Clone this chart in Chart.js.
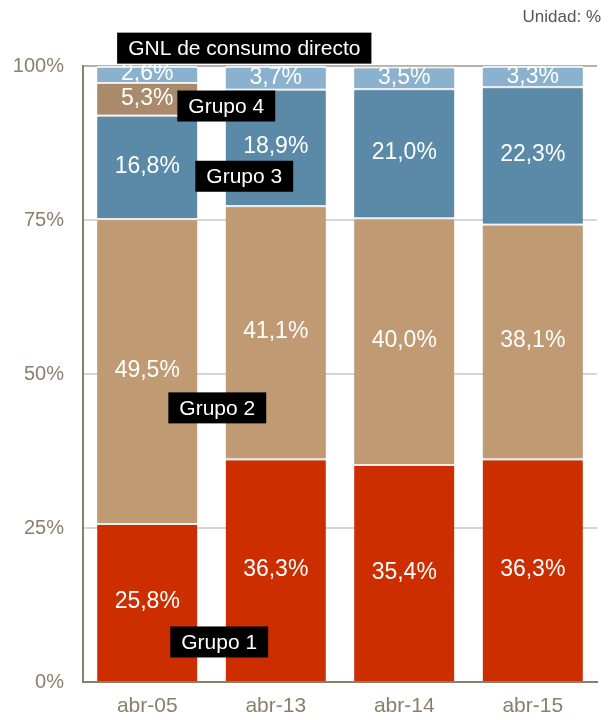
<!DOCTYPE html>
<html>
<head>
<meta charset="utf-8">
<script src="https://cdn.jsdelivr.net/npm/chart.js@4"></script>
<style>
  body { margin: 0; background: #fff; }
  .wrap { position: relative; width: 611px; height: 720px; }
</style>
</head>
<body>
<div class="wrap"><canvas id="myChart"></canvas></div>
<script>
(function () {
  const labels = ['abr-05', 'abr-13', 'abr-14', 'abr-15'];

  const grupo1 = [25.8, 36.3, 35.4, 36.3];
  const grupo2 = [49.5, 41.1, 40.0, 38.1];
  const grupo3 = [16.8, 18.9, 21.0, 22.3];
  const grupo4 = [5.3, 0, 0, 0];
  const gnl = [2.6, 3.7, 3.5, 3.3];

  const yTicks = [0, 25, 50, 75, 100];

  // black name boxes, placed in data units
  const notes = [
    { text: 'GNL de consumo directo', x: 0.755, y: 102.9 },
    { text: 'Grupo 4', x: 0.615, y: 93.5 },
    { text: 'Grupo 3', x: 0.755, y: 82.1 },
    { text: 'Grupo 2', x: 0.545, y: 44.5 },
    { text: 'Grupo 1', x: 0.56, y: 6.5 },
  ];

  const FONT = '"Liberation Sans", Arial, sans-serif';
  const AXIS = '#8a7f6a';

  function ds(data, color) {
    return {
      data: data,
      backgroundColor: color,
      borderColor: '#ffffff',
      borderWidth: { top: 2, bottom: 0, left: 0, right: 0 },
      borderSkipped: false,
      barPercentage: 0.78,
      categoryPercentage: 1,
    };
  }

  const shadow = {
    id: 'shadow',
    beforeDatasetsDraw(chart) {
      const c = chart.ctx;
      c.save();
      c.shadowColor = 'rgba(0,0,0,0.22)';
      c.shadowBlur = 4;
    },
    afterDatasetsDraw(chart) {
      chart.ctx.restore();
    }
  };

  const valueLabels = {
    id: 'valueLabels',
    afterDatasetsDraw(chart) {
      const c = chart.ctx;
      c.save();
      c.fillStyle = '#ffffff';
      c.font = '23px ' + FONT;
      c.textAlign = 'center';
      c.textBaseline = 'middle';
      chart.data.datasets.forEach(function (d, i) {
        const meta = chart.getDatasetMeta(i);
        meta.data.forEach(function (bar, j) {
          const v = d.data[j];
          if (!v) return;
          const y = (bar.y + bar.base) / 2;
          c.fillText(v.toFixed(1).replace('.', ',') + '%', bar.x, y);
        });
      });
      c.restore();
    }
  };

  const nameBoxes = {
    id: 'nameBoxes',
    afterDraw(chart) {
      const c = chart.ctx;
      const xs = chart.scales.x, ys = chart.scales.y;
      c.save();
      c.font = '21px ' + FONT;
      c.textAlign = 'center';
      c.textBaseline = 'middle';
      notes.forEach(function (n) {
        const px = xs.getPixelForValue(n.x);
        const py = ys.getPixelForValue(n.y);
        const w = c.measureText(n.text).width + 22;
        const h = 31;
        c.fillStyle = '#000000';
        c.fillRect(px - w / 2, py - h / 2, w, h);
        c.fillStyle = '#ffffff';
        c.fillText(n.text, px, py + 1);
      });
      c.fillStyle = '#555555';
      c.font = '17px ' + FONT;
      c.textAlign = 'right';
      c.fillText('Unidad: %', 601, 17);
      c.restore();
    }
  };

  new Chart(document.getElementById('myChart'), {
    type: 'bar',
    data: {
      labels: labels,
      datasets: [
        ds(grupo1, '#cc2e00'),
        ds(grupo2, '#c09a72'),
        ds(grupo3, '#5a8aa8'),
        ds(grupo4, '#a98b6c'),
        ds(gnl, '#8ab1cd'),
      ]
    },
    plugins: [shadow, valueLabels, nameBoxes],
    options: {
      responsive: true,
      maintainAspectRatio: false,
      animation: false,
      layout: { padding: { top: 66, right: 14, left: 0, bottom: 0 } },
      plugins: {
        legend: { display: false },
        tooltip: { enabled: false }
      },
      scales: {
        x: {
          stacked: true,
          grid: { display: false, drawTicks: false },
          border: { color: AXIS, width: 2 },
          ticks: { color: AXIS, font: { family: FONT, size: 21 }, padding: 12 },
          afterFit(scale) { scale.height = 38; }
        },
        y: {
          stacked: true,
          min: 0,
          max: 100,
          afterBuildTicks(scale) { scale.ticks = yTicks.map(function (v) { return { value: v }; }); },
          grid: {
            drawTicks: false,
            color(ctx) { return ctx.tick && ctx.tick.value === 100 ? '#b8b2a6' : '#d6d6d6'; },
            lineWidth: 2
          },
          border: { color: AXIS, width: 2 },
          ticks: {
            color: AXIS,
            font: { family: FONT, size: 20 },
            padding: 19,
            callback(v) { return v + '%'; }
          },
          afterFit(scale) { scale.width = 83; }
        }
      }
    }
  });
})();
</script>
</body>
</html>
